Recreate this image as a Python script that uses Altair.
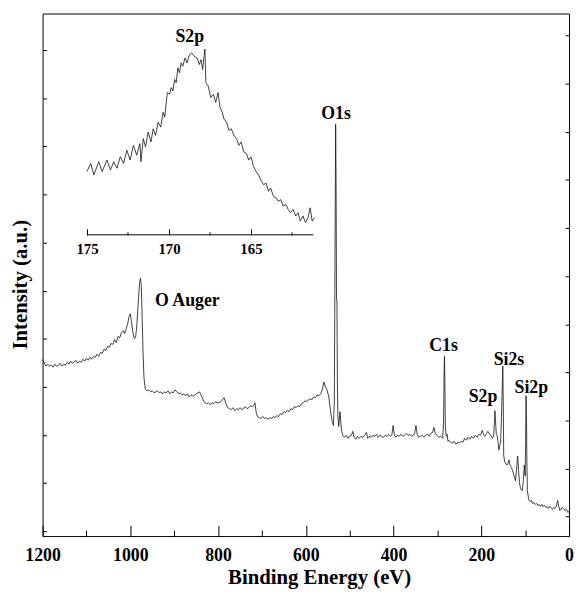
import altair as alt
import pandas as pd

# ---------------- survey spectrum (binding energy in eV, intensity a.u.) -------------
energy = [1200, 1196, 1192, 1188, 1184, 1180, 1176, 1172, 1168, 1164, 1160, 1156, 1152, 1148,
          1144, 1140, 1136, 1132, 1128, 1124, 1120, 1116, 1112, 1108, 1104, 1100, 1096, 1092,
          1088, 1084, 1080, 1076, 1072,
          1068, 1064, 1060, 1056, 1052, 1048, 1044, 1040, 1036, 1032, 1028, 1024, 1020, 1016,
          1013, 1010, 1006, 1003, 1000, 997, 994, 991, 988, 985, 982, 979, 977, 975, 973, 971,
          969, 966, 962,
          958, 954, 950, 946, 942, 938, 934, 930, 926, 922, 918, 914, 910, 906, 902, 898, 894,
          890, 886, 882, 878, 874, 870, 866, 862, 858, 854, 850, 846, 842, 838, 834, 830, 826,
          822, 818, 814, 810, 806, 802, 798, 794, 790, 786, 782, 778, 774, 770, 766, 762, 758,
          754, 750, 746, 742, 738, 734, 730, 726, 722, 719, 716, 713, 710, 706, 702, 698, 694,
          690, 686, 682, 678, 674, 670, 666, 662, 658, 654, 650, 646, 642, 638, 634, 630, 626,
          622, 618, 614, 610, 606, 602, 598, 594, 590, 586, 582, 578, 574, 570, 566, 562, 559,
          556, 552, 548, 544, 540, 537,
          535, 533, 532, 531, 530, 529, 528, 527, 525, 522, 519, 516,
          512, 508, 504, 500, 496, 493, 490, 486, 482, 478, 474, 470, 466, 462, 459, 455, 451,
          447, 443, 439, 435, 431, 427, 423, 419, 415, 411, 407, 404, 401, 398, 395, 391, 387,
          383, 379, 375, 371, 367, 363, 359, 355, 352, 349, 346, 343, 339, 335, 331, 327, 323,
          319, 315, 311, 308, 305, 301, 297, 293, 290, 288, 286, 285, 284, 283, 282, 280, 278,
          276,
          274, 270, 266, 262, 258, 254, 250, 246, 242, 238, 234, 230, 226, 222, 218, 214, 210,
          206, 202, 198, 195, 192, 188, 185, 181, 178, 175, 172, 170, 169, 168, 166, 164, 162,
          160, 158, 156, 154, 152, 151, 150, 149, 147, 144, 141, 139, 137, 134, 131, 128, 126,
          124, 122, 120, 118, 117, 115, 113, 111, 109, 107, 105, 103, 102, 100, 99, 98, 97, 96,
          95, 92, 89, 86, 83, 80, 77, 74, 71, 68, 65, 62, 59, 56, 53, 50, 47, 44, 41, 38, 35,
          32, 29, 26, 24, 21, 18, 15, 12, 9, 6, 3, 0]
intensity = [18.3, 17.9, 17.6, 17.8, 17.6, 17.7, 17.5, 17.8, 17.6, 17.7, 17.9, 17.6, 17.8, 17.7,
             18.0, 17.8, 18.1, 17.9, 18.0, 18.2, 17.9, 18.1, 18.0, 18.3, 18.1, 18.4, 18.2, 18.5,
             18.3, 18.6, 18.5, 18.8, 18.6,
             19.0, 18.9, 19.3, 19.2, 19.6, 19.5, 19.9, 19.8, 20.3, 20.0, 20.6, 20.5, 21.0, 21.2,
             20.9, 21.3, 21.9, 22.6, 22.9, 22.0, 21.0, 20.4, 20.5, 21.8, 24.0, 26.0, 26.5, 25.8,
             22.5, 19.0, 16.5, 15.3, 15.1,
             15.2, 15.0, 15.1, 14.9, 15.0, 15.1, 14.9, 15.0, 14.8, 15.0, 14.9, 15.1, 14.8, 15.0,
             14.9, 15.2, 15.0, 14.8, 14.9, 14.7, 14.8, 14.6, 14.8, 14.5, 14.7, 14.6, 14.6, 14.8,
             14.9, 15.0, 14.6, 14.2, 13.9, 13.8, 13.9, 13.7, 13.9, 13.8, 14.0, 13.9, 13.9, 14.0,
             14.2, 14.4, 13.8, 13.4, 13.3, 13.2, 13.4, 13.1, 13.3, 13.2, 13.4, 13.2, 13.3, 13.5,
             13.3, 13.4, 13.6, 13.5, 13.6, 13.9, 12.9, 12.5, 12.4, 12.3, 12.5, 12.3, 12.4, 12.2,
             12.4, 12.3, 12.5, 12.4, 12.6, 12.5, 12.8, 12.7, 13.0, 12.9, 13.1, 13.0, 13.3, 13.2,
             13.5, 13.4, 13.6, 13.5, 13.8, 13.9, 14.1, 14.0, 14.2, 14.3, 14.2, 14.5, 14.4, 14.7,
             14.6, 14.8, 15.3, 16.0, 15.6, 15.2, 14.6, 13.2, 12.0, 11.6,
             14.0, 33.0, 42.1, 36.0, 24.5, 24.0, 16.0, 12.6, 11.5, 13.0, 11.2, 10.6,
             10.4, 10.6, 10.3, 10.5, 10.6, 11.0, 10.4, 10.2, 10.5, 10.3, 10.5, 10.4, 10.6, 10.9,
             10.3, 10.5, 10.4, 10.6, 10.5, 10.7, 10.4, 10.6, 10.5, 10.4, 10.6, 10.5, 10.7, 10.5,
             10.6, 11.6, 10.6, 10.4, 10.6, 10.5, 10.7, 10.5, 10.6, 10.8, 10.6, 10.7, 10.5, 10.6,
             10.8, 11.6, 10.7, 10.4, 10.5, 10.6, 10.4, 10.6, 10.7, 10.5, 10.8, 10.9, 11.4, 10.8,
             10.6, 10.4, 10.5, 10.4, 10.3, 12.0, 16.5, 18.6, 16.0, 11.5, 10.5, 10.7, 10.0,
             10.1, 9.9, 9.8, 10.0, 9.7, 9.9, 9.8, 10.0, 9.9, 10.3, 10.1, 10.4, 10.2, 10.5, 10.3,
             10.6, 10.4, 10.7, 10.6, 11.1, 10.7, 10.5, 10.8, 11.0, 10.7, 10.6, 10.3, 10.5, 12.0,
             13.1, 12.4, 10.8, 10.6, 10.0, 9.1, 9.6, 9.8, 12.5, 16.0, 17.6, 14.0, 8.6, 8.0, 7.7,
             7.6, 7.8, 8.1, 7.5, 7.3, 6.9, 6.6, 6.3, 6.0, 7.0, 8.2, 8.5, 7.0, 5.8, 5.3, 5.1, 5.0,
             5.6, 6.8, 7.6, 6.5, 10.0, 14.6, 12.0, 7.5, 5.0, 4.1, 3.9, 4.0, 3.7, 3.8, 3.6, 3.7,
             3.5, 3.6, 3.4, 3.6, 3.4, 3.5, 3.3, 3.4, 3.2, 3.4, 3.3, 3.1, 3.3, 3.2, 3.4, 4.0, 3.5,
             3.0, 3.2, 3.3, 3.1, 3.0, 3.1, 2.8, 2.9]

# ---------------- S2p high-resolution inset (binding energy eV, counts) ----------------
s2p_energy = [175.0, 174.78, 174.58, 174.28, 174.08, 173.78, 173.57, 173.37, 173.17, 172.97,
              172.77, 172.57, 172.37, 172.17, 171.97, 171.77, 171.71, 171.57, 171.43, 171.27,
              171.10, 170.96, 170.82, 170.66, 170.50, 170.36, 170.26, 170.10, 169.96, 169.86,
              169.76, 169.66, 169.56, 169.46, 169.36, 169.26, 169.16, 169.02, 168.90, 168.75,
              168.61, 168.45, 168.29, 168.15, 168.05, 167.95, 167.81, 167.75, 167.61, 167.45,
              167.29, 167.15, 167.01, 166.89, 166.75, 166.65, 166.49, 166.34, 166.20, 166.04,
              165.88, 165.74, 165.60, 165.44, 165.28, 165.14, 165.00, 164.84, 164.68, 164.54,
              164.40, 164.23, 164.08, 163.93, 163.80, 163.63, 163.48, 163.33, 163.19, 163.03,
              162.87, 162.73, 162.59, 162.43, 162.27, 162.13, 161.99, 161.83, 161.67, 161.52,
              161.39, 161.27, 161.13]
s2p_counts = [1280, 1447, 1213, 1480, 1280, 1513, 1313, 1480, 1347, 1580,
              1447, 1713, 1513, 1813, 1613, 1847, 1480, 1947, 1780, 2080,
              1880, 2147, 2013, 2280, 2180, 2480, 2380, 2880, 2847, 2980,
              2913, 3147, 3080, 3380, 3280, 3480, 3413, 3580, 3480, 3647,
              3680, 3613, 3580, 3447, 3547, 3347, 3760, 3080, 3013, 2780,
              2847, 2680, 2880, 2580, 2480, 2347, 2280, 2113, 2147, 2013,
              1947, 1813, 1880, 1680, 1647, 1513, 1580, 1380, 1280, 1213,
              1113, 1013, 1047, 880, 947, 780, 747, 680, 713, 580,
              613, 513, 447, 513, 380, 447, 280, 380, 247, 347,
              547, 280, 347]

# ---------------- peak annotations ----------------
peak_labels = ["O1s", "O Auger", "C1s", "Si2s", "S2p", "Si2p"]
peak_label_energy = [531, 870, 286, 137, 196, 86]
peak_label_intensity = [42.6, 23.65, 19.1, 17.7, 14.0, 14.85]

inset_title = ["S2p"]
inset_title_energy = [168.73]
inset_title_counts = [3910]

# axis tick values
x_major = [1200, 1000, 800, 600, 400, 200, 0]
x_minor = [1100, 900, 700, 500, 300, 100]
inset_major = [175, 170, 165]
inset_minor = [172.5, 167.5, 162.5]
inset_axis_start = [175.0]
inset_axis_end = [161.2]

# ------------------------------------------------------------------
W, H = 533, 529
FONT = "'Liberation Serif', 'Times New Roman', Times, serif"
INK = "#111111"

y_left_ticks = [0.9 + 4.87 * k for k in range(11)]
y_right_ticks = [2.37 + 4.87 * k for k in range(11)]

main_df = pd.DataFrame({"energy": energy, "intensity": intensity})
inset_df = pd.DataFrame({"energy": s2p_energy, "counts": s2p_counts})
labels_df = pd.DataFrame({"label": peak_labels, "energy": peak_label_energy,
                          "intensity": peak_label_intensity})
inset_title_df = pd.DataFrame({"label": inset_title, "energy": inset_title_energy,
                               "counts": inset_title_counts})
inset_axis_df = pd.DataFrame({"start": inset_axis_start, "end": inset_axis_end, "level": [0]})

main_x = alt.Scale(domain=[0, 1200], reverse=True, nice=False, zero=False)
main_y = alt.Scale(domain=[0.4, 53.3], nice=False, zero=False)
inset_x = alt.Scale(domain=[145.6, 177.71], reverse=True, nice=False, zero=False)
IN_LO, IN_HI = -6100, 4480
inset_y = alt.Scale(domain=[IN_LO, IN_HI], nice=False, zero=False)

# pixel position of the inset baseline (counts = 0) inside the plot area
inset_base_from_top = H * IN_HI / (IN_HI - IN_LO)
inset_base_from_bottom = H - inset_base_from_top

tick_axis = dict(labels=False, domain=False, grid=False, ticks=True, tickColor="black",
                 tickWidth=1, title=None)

# main spectrum with labelled axes
spectrum = alt.Chart(main_df).mark_line(color=INK, strokeWidth=0.8).encode(
    x=alt.X("energy:Q", scale=main_x,
            axis=alt.Axis(orient="bottom", values=x_major, format="d", ticks=False,
                          domain=False, grid=False, labelFlush=False, labelOverlap=False,
                          labelFont=FONT, labelFontSize=18, labelFontWeight="bold",
                          labelColor="black", labelBaseline="alphabetic", labelPadding=25,
                          title="Binding Energy (eV)", titleFont=FONT, titleFontSize=21,
                          titleFontWeight="bold", titleColor="black", titleX=280, titleY=48,
                          titleBaseline="alphabetic", titleAlign="center")),
    y=alt.Y("intensity:Q", scale=main_y,
            axis=alt.Axis(orient="left", labels=False, ticks=False, domain=False, grid=False,
                          title="Intensity (a.u.)", titleFont=FONT, titleFontSize=21,
                          titleFontWeight="bold", titleColor="black", titleX=-16, titleY=274,
                          titleAngle=270, titleBaseline="alphabetic", titleAlign="center")),
)

# inward ticks: major x + left y
ticks_a = alt.Chart(main_df).mark_line(strokeOpacity=0).encode(
    x=alt.X("energy:Q", scale=main_x,
            axis=alt.Axis(orient="top", offset=-H, values=x_major, tickSize=11, **tick_axis)),
    y=alt.Y("intensity:Q", scale=main_y,
            axis=alt.Axis(orient="right", offset=-W, values=y_left_ticks, tickSize=4,
                          **tick_axis)),
)

# inward ticks: minor x + right y
ticks_b = alt.Chart(main_df).mark_line(strokeOpacity=0).encode(
    x=alt.X("energy:Q", scale=main_x,
            axis=alt.Axis(orient="top", offset=-H, values=x_minor, tickSize=6, **tick_axis)),
    y=alt.Y("intensity:Q", scale=main_y,
            axis=alt.Axis(orient="left", offset=-W, values=y_right_ticks, tickSize=4,
                          **tick_axis)),
)

peak_text = alt.Chart(labels_df).mark_text(
    font=FONT, fontSize=18, fontWeight="bold", color="black", baseline="alphabetic",
    align="center").encode(
    x=alt.X("energy:Q", scale=main_x, axis=None),
    y=alt.Y("intensity:Q", scale=main_y, axis=None),
    text="label:N",
)

# ---------------- inset ----------------
inset_line = alt.Chart(inset_df).mark_line(color=INK, strokeWidth=0.8).encode(
    x=alt.X("energy:Q", scale=inset_x,
            axis=alt.Axis(orient="bottom", offset=-inset_base_from_bottom,
                          values=inset_major, format="d",
                          ticks=False, domain=False, grid=False, labelFlush=False,
                          labelOverlap=False, labelFont=FONT, labelFontSize=15,
                          labelFontWeight="bold", labelColor="black",
                          labelBaseline="alphabetic", labelPadding=19, title=None)),
    y=alt.Y("counts:Q", scale=inset_y, axis=None),
)

inset_axis = alt.Chart(inset_axis_df).mark_rule(color="black", strokeWidth=1).encode(
    x=alt.X("start:Q", scale=inset_x,
            axis=alt.Axis(orient="top", offset=-inset_base_from_top, values=inset_major,
                          tickSize=6, **tick_axis)),
    x2="end:Q",
    y=alt.Y("level:Q", scale=inset_y, axis=None),
)

inset_label = alt.Chart(inset_title_df).mark_text(
    font=FONT, fontSize=18, fontWeight="bold", color="black", baseline="alphabetic",
    align="center").encode(
    x=alt.X("energy:Q", scale=inset_x,
            axis=alt.Axis(orient="top", offset=-inset_base_from_top, values=inset_minor,
                          tickSize=3, **tick_axis)),
    y=alt.Y("counts:Q", scale=inset_y, axis=None),
    text="label:N",
)

chart = alt.layer(
    spectrum, ticks_a, ticks_b, peak_text, inset_line, inset_axis, inset_label
).resolve_scale(
    x="independent", y="independent"
).properties(
    width=W, height=H,
    autosize=alt.AutoSizeParams(type="none"),
    padding={"left": 35, "top": 2, "right": 5, "bottom": 53},
    background="white",
).configure_view(stroke="black", strokeWidth=1)

chart.save("out.html", embed_options={"renderer": "svg", "actions": False})
